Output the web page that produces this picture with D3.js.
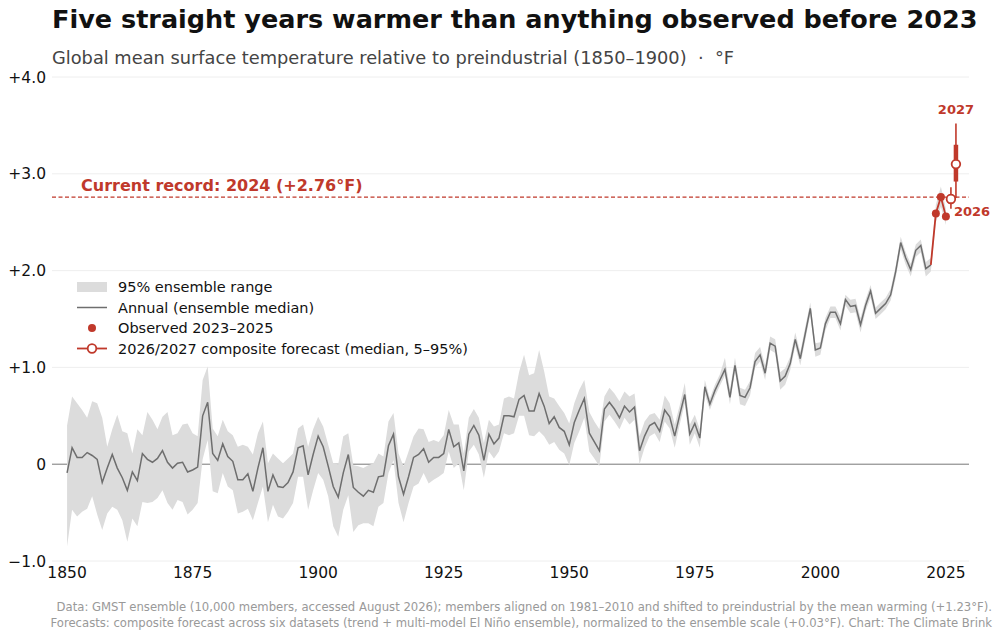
<!DOCTYPE html>
<html>
<head>
<meta charset="utf-8">
<script src="https://cdn.jsdelivr.net/npm/d3@7"></script>
<style>
  body { margin: 0; background: #fff; font-family: "DejaVu Sans", sans-serif; }
  svg text { font-family: "DejaVu Sans", sans-serif; }
</style>
</head>
<body>
<div id="chart"></div>
<script>
////////////////////////////////////////////////////////////
//////////////////////// Data //////////////////////////////
////////////////////////////////////////////////////////////

var firstYear = 1850;

// annual ensemble median, 1850-2022 (°F vs 1850-1900)
var median = [
  -0.09, 0.17, 0.07, 0.07, 0.12, 0.09, 0.05, -0.19, -0.04, 0.10,
  -0.04, -0.14, -0.27, -0.08, -0.17, 0.11, 0.05, 0.02, 0.06, 0.14,
  0.02, -0.04, 0.01, 0.02, -0.08, -0.06, -0.03, 0.50, 0.64, 0.11,
  0.04, 0.21, 0.08, 0.03, -0.16, -0.16, -0.10, -0.28, -0.04, 0.17,
  -0.28, -0.11, -0.23, -0.24, -0.19, -0.08, 0.17, 0.19, -0.11, 0.10,
  0.29, 0.18, -0.02, -0.23, -0.34, -0.09, 0.10, -0.24, -0.29, -0.33,
  -0.27, -0.29, -0.13, -0.12, 0.19, 0.31, -0.13, -0.31, -0.13, 0.07,
  0.10, 0.16, 0.02, 0.07, 0.07, 0.11, 0.36, 0.18, 0.22, -0.07,
  0.31, 0.40, 0.30, 0.04, 0.31, 0.21, 0.27, 0.50, 0.50, 0.49,
  0.67, 0.71, 0.55, 0.55, 0.73, 0.60, 0.42, 0.49, 0.38, 0.34,
  0.20, 0.43, 0.56, 0.68, 0.32, 0.23, 0.14, 0.57, 0.64, 0.57,
  0.48, 0.60, 0.54, 0.59, 0.14, 0.29, 0.40, 0.43, 0.34, 0.56,
  0.49, 0.29, 0.51, 0.72, 0.31, 0.42, 0.27, 0.80, 0.62, 0.76,
  0.87, 0.98, 0.69, 1.02, 0.71, 0.69, 0.79, 1.06, 1.13, 0.94,
  1.25, 1.22, 0.86, 0.91, 1.04, 1.29, 1.09, 1.35, 1.61, 1.18,
  1.20, 1.45, 1.57, 1.57, 1.45, 1.70, 1.63, 1.64, 1.44, 1.64,
  1.79, 1.56, 1.61, 1.66, 1.75, 1.99, 2.29, 2.13, 2.01, 2.21,
  2.26, 2.02, 2.06
];

// 95% ensemble range, 1850-2025
var upper = [
  0.40, 0.70, 0.63, 0.56, 0.48, 0.65, 0.63, 0.48, 0.18, 0.36,
  0.51, 0.34, 0.32, 0.11, 0.36, 0.30, 0.54, 0.46, 0.36, 0.49,
  0.54, 0.30, 0.32, 0.41, 0.42, 0.32, 0.29, 0.87, 1.01, 0.37,
  0.29, 0.46, 0.34, 0.30, 0.18, 0.20, 0.18, 0.10, 0.32, 0.44,
  0.01, 0.11, 0.06, 0.01, 0.06, 0.11, 0.37, 0.41, 0.18, 0.36,
  0.49, 0.39, 0.20, 0.01, 0.00, 0.29, 0.32, -0.01, -0.02, -0.04,
  -0.01, 0.01, 0.11, 0.08, 0.44, 0.53, 0.11, -0.02, 0.13, 0.29,
  0.37, 0.36, 0.23, 0.25, 0.23, 0.30, 0.56, 0.41, 0.41, 0.11,
  0.48, 0.57, 0.48, 0.22, 0.46, 0.39, 0.41, 0.68, 0.70, 0.68,
  0.95, 1.13, 0.92, 0.94, 1.18, 0.96, 0.70, 0.68, 0.60, 0.53,
  0.42, 0.63, 0.77, 0.87, 0.54, 0.44, 0.36, 0.70, 0.79, 0.73,
  0.65, 0.75, 0.70, 0.73, 0.29, 0.44, 0.51, 0.53, 0.46, 0.71,
  0.63, 0.41, 0.61, 0.84, 0.41, 0.51, 0.36, 0.87, 0.68, 0.82,
  0.93, 1.10, 0.77, 1.10, 0.79, 0.77, 0.86, 1.15, 1.21, 1.02,
  1.32, 1.29, 0.95, 0.99, 1.11, 1.36, 1.16, 1.42, 1.67, 1.25,
  1.26, 1.51, 1.63, 1.63, 1.52, 1.75, 1.70, 1.71, 1.51, 1.70,
  1.85, 1.62, 1.67, 1.72, 1.81, 2.05, 2.35, 2.19, 2.07, 2.27,
  2.32, 2.09, 2.13, 2.68, 2.87, 2.64
];
var lower = [
  -0.85, -0.47, -0.54, -0.49, -0.46, -0.33, -0.52, -0.68, -0.51, -0.44,
  -0.47, -0.58, -0.80, -0.56, -0.64, -0.39, -0.40, -0.39, -0.35, -0.27,
  -0.40, -0.47, -0.37, -0.39, -0.52, -0.47, -0.40, 0.05, 0.25, -0.28,
  -0.30, -0.09, -0.23, -0.27, -0.51, -0.49, -0.46, -0.58, -0.40, -0.23,
  -0.60, -0.42, -0.54, -0.56, -0.49, -0.40, -0.13, -0.13, -0.47, -0.27,
  -0.09, -0.16, -0.33, -0.64, -0.75, -0.47, -0.32, -0.70, -0.63, -0.61,
  -0.61, -0.64, -0.44, -0.40, -0.09, 0.04, -0.40, -0.60, -0.40, -0.23,
  -0.20, -0.09, -0.20, -0.16, -0.13, -0.09, 0.13, -0.04, 0.01, -0.27,
  0.13, 0.20, 0.10, -0.14, 0.13, 0.06, 0.13, 0.32, 0.30, 0.32,
  0.50, 0.50, 0.30, 0.29, 0.34, 0.29, 0.20, 0.23, 0.15, 0.11,
  -0.01, 0.22, 0.34, 0.48, 0.13, 0.06, -0.02, 0.44, 0.51, 0.44,
  0.36, 0.48, 0.41, 0.46, 0.00, 0.17, 0.29, 0.32, 0.23, 0.44,
  0.37, 0.17, 0.41, 0.63, 0.20, 0.32, 0.17, 0.72, 0.56, 0.70,
  0.81, 0.92, 0.62, 0.96, 0.62, 0.60, 0.71, 1.00, 1.06, 0.87,
  1.18, 1.15, 0.77, 0.82, 0.97, 1.22, 1.02, 1.28, 1.55, 1.11,
  1.13, 1.38, 1.51, 1.51, 1.38, 1.64, 1.56, 1.57, 1.36, 1.58,
  1.72, 1.50, 1.55, 1.60, 1.69, 1.92, 2.22, 2.06, 1.94, 2.14,
  2.19, 1.94, 1.99, 2.50, 2.66, 2.47
];

var obsYears = [2023, 2024, 2025],
    obsValues = [2.59, 2.76, 2.56];

var fcYears = [2026, 2027],
    fcMedian = [2.74, 3.10],
    fcLow = [2.64, 2.75],
    fcHigh = [2.86, 3.52],
    fcInnerLow = [2.69, 2.92],
    fcInnerHigh = [2.79, 3.30];

var recordYear = 2024,
    recordValue = 2.76;

var yTicks = [-1, 0, 1, 2, 3, 4],
    xTicks = [1850, 1875, 1900, 1925, 1950, 1975, 2000, 2025];

////////////////////////////////////////////////////////////
//////////////////////// Set-Up ////////////////////////////
////////////////////////////////////////////////////////////

var width = 1000,
    height = 638,
    red = "#c0392b",
    bandColor = "#dcdcdc",
    lineColor = "#6e6e6e";

var x = d3.scaleLinear().domain([1847, 2029.6]).range([52, 969]);
var y = d3.scaleLinear().domain([-1, 4]).range([561, 77]);

var svg = d3.select("#chart").append("svg")
    .attr("width", width)
    .attr("height", height);

var bandData = upper.map(function(u, i) {
  return {year: firstYear + i, lo: lower[i], hi: u};
});
var medianData = median.map(function(v, i) {
  return {year: firstYear + i, value: v};
});

////////////////////////////////////////////////////////////
//////////////////////// Grid //////////////////////////////
////////////////////////////////////////////////////////////

svg.append("g").selectAll("line")
  .data(yTicks)
  .enter().append("line")
  .attr("x1", x.range()[0])
  .attr("x2", x.range()[1])
  .attr("y1", function(d) { return y(d); })
  .attr("y2", function(d) { return y(d); })
  .style("stroke", function(d) { return d === 0 ? "#777" : "#ececec"; })
  .style("stroke-width", function(d) { return d === 0 ? 1 : 0.9; });

// y labels
svg.append("g").selectAll("text")
  .data(yTicks)
  .enter().append("text")
  .attr("x", 46)
  .attr("y", function(d) { return y(d); })
  .attr("dy", "0.36em")
  .style("text-anchor", "end")
  .style("font-size", "15.5px")
  .style("fill", "#111")
  .text(function(d) {
    if (d === 0) return "0";
    return (d > 0 ? "+" : "\u2212") + d3.format(".1f")(Math.abs(d));
  });

// x labels
svg.append("g").selectAll("text")
  .data(xTicks)
  .enter().append("text")
  .attr("x", function(d) { return x(d); })
  .attr("y", 578)
  .style("text-anchor", "middle")
  .style("font-size", "15.5px")
  .style("fill", "#111")
  .text(function(d) { return d; });

////////////////////////////////////////////////////////////
//////////////////////// Series ////////////////////////////
////////////////////////////////////////////////////////////

var area = d3.area()
  .x(function(d) { return x(d.year); })
  .y0(function(d) { return y(d.lo); })
  .y1(function(d) { return y(d.hi); });

svg.append("path")
  .datum(bandData)
  .attr("d", area)
  .style("fill", bandColor)
  .style("stroke", "none");

var line = d3.line()
  .x(function(d) { return x(d.year); })
  .y(function(d) { return y(d.value); });

svg.append("path")
  .datum(medianData)
  .attr("d", line)
  .style("fill", "none")
  .style("stroke", lineColor)
  .style("stroke-width", 1.5);

// record line
svg.append("line")
  .attr("x1", x.range()[0])
  .attr("x2", x.range()[1])
  .attr("y1", y(recordValue))
  .attr("y2", y(recordValue))
  .style("stroke", red)
  .style("stroke-width", 1.2)
  .style("stroke-dasharray", "4,2.5");

svg.append("text")
  .attr("x", 81)
  .attr("y", y(recordValue) - 6)
  .style("font-size", "16px")
  .style("font-weight", "bold")
  .style("fill", red)
  .text("Current record: " + recordYear + " (+" + recordValue.toFixed(2) + "\u00b0F)");

// red path: last median -> observed years
var redPts = [{year: firstYear + median.length - 1, value: median[median.length - 1]}];
obsYears.forEach(function(yr, i) { redPts.push({year: yr, value: obsValues[i]}); });

svg.append("path")
  .datum(redPts)
  .attr("d", line)
  .style("fill", "none")
  .style("stroke", red)
  .style("stroke-width", 1.8);

// forecast ranges
var fc = svg.append("g").selectAll("g")
  .data(fcYears)
  .enter().append("g");

fc.append("line")
  .attr("x1", function(d) { return x(d); })
  .attr("x2", function(d) { return x(d); })
  .attr("y1", function(d, i) { return y(fcLow[i]); })
  .attr("y2", function(d, i) { return y(fcHigh[i]); })
  .style("stroke", red)
  .style("stroke-width", 1.6);

fc.append("line")
  .attr("x1", function(d) { return x(d); })
  .attr("x2", function(d) { return x(d); })
  .attr("y1", function(d, i) { return y(fcInnerLow[i]); })
  .attr("y2", function(d, i) { return y(fcInnerHigh[i]); })
  .style("stroke", red)
  .style("stroke-width", 4.5);

// observed dots
svg.append("g").selectAll("circle")
  .data(obsYears)
  .enter().append("circle")
  .attr("cx", function(d) { return x(d); })
  .attr("cy", function(d, i) { return y(obsValues[i]); })
  .attr("r", 4)
  .style("fill", red);

fc.append("circle")
  .attr("cx", function(d) { return x(d); })
  .attr("cy", function(d, i) { return y(fcMedian[i]); })
  .attr("r", 4.3)
  .style("fill", "#fff")
  .style("stroke", red)
  .style("stroke-width", 1.8);

// forecast year labels
svg.append("text")
  .attr("x", x(2027))
  .attr("y", y(fcHigh[1]) - 9)
  .style("text-anchor", "middle")
  .style("font-size", "13px")
  .style("font-weight", "bold")
  .style("fill", red)
  .text("2027");

svg.append("text")
  .attr("x", x(2026) + 3)
  .attr("y", y(fcMedian[0]) + 17)
  .style("font-size", "13px")
  .style("font-weight", "bold")
  .style("fill", red)
  .text("2026");

////////////////////////////////////////////////////////////
//////////////////////// Legend ////////////////////////////
////////////////////////////////////////////////////////////

var legendItems = ["95% ensemble range", "Annual (ensemble median)",
                   "Observed 2023\u20132025", "2026/2027 composite forecast (median, 5\u201395%)"];

var legend = svg.append("g").selectAll("g")
  .data(legendItems)
  .enter().append("g")
  .attr("transform", function(d, i) { return "translate(77," + (287 + i * 20.5) + ")"; });

legend.append("text")
  .attr("x", 41)
  .attr("dy", "0.35em")
  .style("font-size", "14.5px")
  .style("fill", "#111")
  .text(function(d) { return d; });

legend.filter(function(d, i) { return i === 0; }).append("rect")
  .attr("x", 0).attr("y", -5).attr("width", 30).attr("height", 10)
  .style("fill", bandColor);

legend.filter(function(d, i) { return i === 1; }).append("line")
  .attr("x1", 0).attr("x2", 30)
  .style("stroke", lineColor).style("stroke-width", 1.5);

legend.filter(function(d, i) { return i === 2; }).append("circle")
  .attr("cx", 15).attr("r", 4)
  .style("fill", red);

var fcLegend = legend.filter(function(d, i) { return i === 3; });
fcLegend.append("line")
  .attr("x1", 0).attr("x2", 30)
  .style("stroke", red).style("stroke-width", 1.8);
fcLegend.append("circle")
  .attr("cx", 15).attr("r", 4.3)
  .style("fill", "#fff").style("stroke", red).style("stroke-width", 1.8);

////////////////////////////////////////////////////////////
//////////////////////// Titles ////////////////////////////
////////////////////////////////////////////////////////////

svg.append("text")
  .attr("x", 52)
  .attr("y", 28)
  .style("font-size", "25.5px")
  .style("font-weight", "bold")
  .style("fill", "#111")
  .text("Five straight years warmer than anything observed before 2023");

svg.append("text")
  .attr("x", 52)
  .attr("y", 64)
  .style("font-size", "17.8px")
  .style("fill", "#444")
  .style("white-space", "pre")
  .text("Global mean surface temperature relative to preindustrial (1850\u20131900)  \u00b7  \u00b0F");

var footer = ["Data: GMST ensemble (10,000 members, accessed August 2026); members aligned on 1981\u20132010 and shifted to preindustrial by the mean warming (+1.23\u00b0F).",
              "Forecasts: composite forecast across six datasets (trend + multi-model El Ni\u00f1o ensemble), normalized to the ensemble scale (+0.03\u00b0F). Chart: The Climate Brink"];

svg.append("g").selectAll("text")
  .data(footer)
  .enter().append("text")
  .attr("x", 992)
  .attr("y", function(d, i) { return 611 + i * 16; })
  .style("text-anchor", "end")
  .style("font-size", "11.65px")
  .style("fill", "#999")
  .text(function(d) { return d; });
</script>
</body>
</html>
